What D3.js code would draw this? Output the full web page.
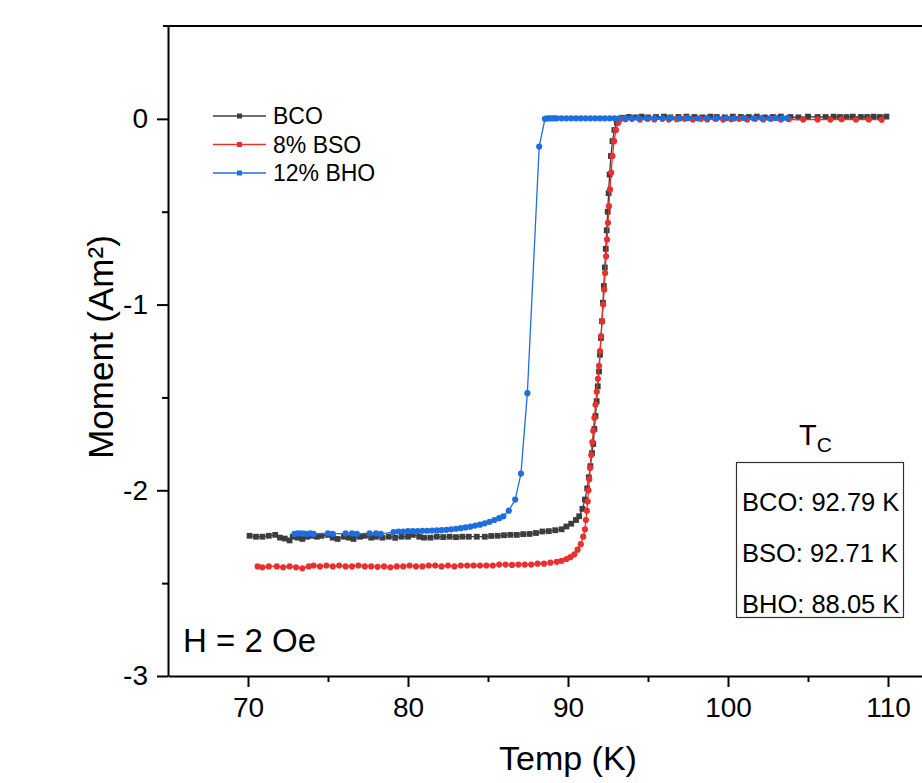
<!DOCTYPE html>
<html>
<head>
<meta charset="utf-8">
<script src="https://cdn.jsdelivr.net/npm/d3@7"></script>
<style>
body { margin: 0; background: #fff; }
svg { font-family: Arial, "Liberation Sans", sans-serif; display: block; }
.axis path, .axis line { stroke: #000; stroke-width: 2; }
.axis text { fill: #000; }
</style>
</head>
<body>
<svg class="chart"></svg>
<script>
// Temp (K), Moment (Am²)
var bco = [
  [70.1,-2.245],[70.5,-2.25],[70.9,-2.25],[71.3,-2.245],[71.7,-2.24],[72.0,-2.255],[72.3,-2.26],[72.6,-2.27],
  [72.8,-2.25],[73.1,-2.255],[73.4,-2.262],[73.7,-2.25],[74.0,-2.245],[74.3,-2.25],[74.6,-2.245],[75.0,-2.24],
  [75.3,-2.255],[75.6,-2.262],[76.0,-2.25],[76.3,-2.255],[76.6,-2.262],[77.0,-2.25],[77.3,-2.245],[77.7,-2.255],
  [78.0,-2.25],[78.4,-2.255],[78.8,-2.25],[79.2,-2.256],[79.6,-2.25],[80.0,-2.25],[80.3,-2.24],[80.7,-2.25],
  [81.0,-2.255],[81.4,-2.255],[81.8,-2.25],[82.2,-2.252],[82.6,-2.25],[83.0,-2.252],[83.4,-2.25],[83.8,-2.25],
  [84.3,-2.25],[84.8,-2.25],[85.2,-2.246],[85.6,-2.245],[86.0,-2.242],[86.4,-2.24],[86.8,-2.24],[87.2,-2.236],
  [87.6,-2.235],[88.0,-2.23],[88.4,-2.222],[88.8,-2.22],[89.2,-2.215],[89.6,-2.21],[89.9,-2.195],[90.2,-2.18],
  [90.5,-2.16],[90.7,-2.14],[90.9,-2.1],[91.06,-2.05],[91.2,-1.99],[91.3,-1.93],[91.4,-1.87],[91.5,-1.8],
  [91.58,-1.75],[91.65,-1.67],[91.72,-1.6],[91.79,-1.52],[91.86,-1.44],[91.94,-1.36],[92.0,-1.27],[92.06,-1.18],
  [92.12,-1.09],[92.18,-0.99],[92.24,-0.9],[92.3,-0.8],[92.36,-0.7],[92.42,-0.6],[92.48,-0.5],[92.54,-0.4],
  [92.6,-0.3],[92.68,-0.2],[92.78,-0.12],[92.9,-0.06],[93.05,-0.02],[93.2,0.0],[93.4,0.006],[93.8,0.01],
  [94.2,0.008],[94.6,0.012],[95.0,0.008],[95.5,0.01],[96.0,0.012],[96.4,0.008],[96.9,0.01],[97.4,0.012],
  [97.9,0.01],[98.4,0.008],[98.9,0.012],[99.3,0.01],[99.8,0.008],[100.3,0.012],[100.8,0.01],[101.3,0.01],
  [101.8,0.012],[102.3,0.008],[102.8,0.01],[103.3,0.012],[103.9,0.01],[104.4,0.008],[105.0,0.012],[105.6,0.01],
  [106.1,0.01],[106.6,0.012],[107.0,0.01],[107.4,0.01],[107.8,0.012],[108.3,0.01],[108.7,0.01],[109.1,0.012],
  [109.5,0.01],[109.9,0.012]
];

var bso = [
  [70.6,-2.41],[70.9,-2.415],[71.3,-2.41],[71.8,-2.41],[72.2,-2.415],[72.6,-2.41],[73.0,-2.415],[73.4,-2.42],
  [73.8,-2.41],[74.1,-2.405],[74.5,-2.41],[74.9,-2.405],[75.3,-2.41],[75.7,-2.405],[76.1,-2.41],[76.5,-2.41],
  [76.9,-2.405],[77.3,-2.41],[77.7,-2.41],[78.1,-2.412],[78.5,-2.41],[78.9,-2.415],[79.3,-2.41],[79.7,-2.41],
  [80.1,-2.405],[80.5,-2.41],[80.9,-2.41],[81.3,-2.405],[81.7,-2.405],[82.1,-2.41],[82.5,-2.405],[82.9,-2.41],
  [83.3,-2.405],[83.7,-2.405],[84.1,-2.405],[84.5,-2.405],[84.9,-2.405],[85.3,-2.405],[85.7,-2.4],[86.1,-2.4],
  [86.5,-2.402],[86.9,-2.4],[87.3,-2.4],[87.7,-2.4],[88.1,-2.395],[88.5,-2.395],[88.9,-2.39],[89.3,-2.385],
  [89.6,-2.38],[89.9,-2.37],[90.15,-2.36],[90.4,-2.345],[90.6,-2.32],[90.8,-2.29],[90.95,-2.25],[91.06,-2.21],
  [91.12,-2.16],[91.18,-2.11],[91.23,-2.06],[91.28,-2.0],[91.33,-1.94],[91.38,-1.88],[91.45,-1.81],[91.52,-1.74],
  [91.58,-1.68],[91.65,-1.61],[91.72,-1.54],[91.8,-1.47],[91.87,-1.4],[91.94,-1.33],[92.0,-1.25],[92.07,-1.17],
  [92.13,-1.09],[92.2,-1.0],[92.26,-0.92],[92.32,-0.83],[92.38,-0.74],[92.44,-0.65],[92.5,-0.56],[92.56,-0.47],
  [92.62,-0.38],[92.7,-0.29],[92.78,-0.2],[92.88,-0.12],[93.0,-0.06],[93.15,-0.02],[93.35,0.002],[93.6,-0.002],
  [94.0,0.0],[94.5,-0.004],[95.0,0.0],[95.4,-0.003],[95.9,0.0],[96.3,-0.004],[96.8,-0.002],[97.3,0.0],
  [97.8,-0.004],[98.3,0.0],[98.7,-0.003],[99.2,0.0],[99.7,-0.004],[100.2,-0.002],[100.7,0.0],[101.2,-0.004],
  [101.7,0.0],[102.2,-0.003],[102.7,0.0],[103.3,-0.004],[103.8,-0.002],[104.7,-0.004],[105.6,-0.003],[106.4,-0.004],
  [107.1,-0.002],[108.0,-0.004],[108.8,-0.003],[109.6,-0.005]
];

var bho = [
  [72.9,-2.235],[73.1,-2.232],[73.3,-2.232],[73.5,-2.233],[73.7,-2.235],[73.9,-2.232],[74.1,-2.235],[75.0,-2.232],
  [75.3,-2.235],[76.1,-2.232],[76.5,-2.232],[76.8,-2.235],[77.6,-2.232],[78.0,-2.232],[78.3,-2.235],[79.1,-2.225],
  [79.4,-2.222],[79.7,-2.222],[80.0,-2.22],[80.3,-2.22],[80.6,-2.22],[80.9,-2.218],[81.2,-2.218],[81.5,-2.217],
  [81.8,-2.216],[82.1,-2.215],[82.4,-2.213],[82.7,-2.21],[83.0,-2.207],[83.3,-2.204],[83.6,-2.2],[83.9,-2.196],
  [84.2,-2.19],[84.5,-2.185],[84.8,-2.178],[85.1,-2.17],[85.4,-2.16],[85.7,-2.15],[85.96,-2.14],[86.3,-2.11],
  [86.7,-2.05],[87.06,-1.91],[87.46,-1.477],[88.2,-0.149],[88.56,0.0],[88.7,0.003],[88.85,0.003],[89.0,0.003],
  [89.15,0.003],[89.3,0.003],[89.6,0.003],[89.9,0.003],[90.2,0.003],[90.5,0.003],[90.8,0.003],[91.1,0.003],
  [91.4,0.003],[91.7,0.003],[92.0,0.003],[92.3,0.003],[92.6,0.003],[92.9,0.003],[93.2,0.003],[93.6,0.004],
  [94.0,0.003],[94.4,0.004],[94.9,0.003],[95.4,0.004],[95.9,0.003],[96.4,0.004],[97.0,0.003],[97.5,0.004],
  [98.1,0.003],[98.7,0.004],[99.3,0.003],[99.9,0.004],[100.4,0.003],[101.0,0.004],[101.6,0.003],[102.1,0.004],
  [102.6,0.003],[103.0,0.004],[103.4,0.003],[103.7,0.004]
];

var series = [
  {name: "BCO", data: bco, color: "#3d3d3d", shape: "square"},
  {name: "8% BSO", data: bso, color: "#e8312e", shape: "circle"},
  {name: "12% BHO", data: bho, color: "#1e6ee0", shape: "circle"}
];

var tcLabels = ["BCO: 92.79 K", "BSO: 92.71 K", "BHO: 88.05 K"];

var margin = {top: 26, left: 168},
    width = 800,
    height = 650;

var x = d3.scaleLinear().domain([65, 115]).range([0, width]);
var y = d3.scaleLinear().domain([-3, 0.5]).range([height, 0]);

var svg = d3.select(".chart")
    .attr("width", 922)
    .attr("height", 783);

var chart = svg.append("g")
    .attr("transform", "translate(" + margin.left + "," + margin.top + ")");

// top frame line
chart.append("line")
    .attr("x1", -5).attr("x2", width)
    .attr("y1", 0).attr("y2", 0)
    .attr("stroke", "#000").attr("stroke-width", 2);

// minor ticks
chart.append("g")
    .attr("class", "axis")
    .attr("transform", "translate(0," + height + ")")
    .call(d3.axisBottom(x).tickValues([75, 85, 95, 105, 115]).tickSize(6).tickFormat(""))
    .select(".domain").remove();

chart.append("g")
    .attr("class", "axis")
    .call(d3.axisLeft(y).tickValues([-2.5, -1.5, -0.5]).tickSize(6).tickFormat(""))
    .select(".domain").remove();

chart.append("g")
    .attr("class", "x axis")
    .attr("transform", "translate(0," + height + ")")
    .call(d3.axisBottom(x).tickValues([70, 80, 90, 100, 110]).tickSize(11).tickSizeOuter(0).tickPadding(10)
      .tickFormat(function(d) { return d; }))
    .style("font-size", "28px");

chart.append("g")
    .attr("class", "y axis")
    .call(d3.axisLeft(y).tickValues([-3, -2, -1, 0]).tickSize(11).tickSizeOuter(0).tickPadding(9)
      .tickFormat(function(d) { return String(d); }))
    .style("font-size", "28px");

chart.selectAll(".axis text").attr("font-family", null);

// data
var line = d3.line()
    .x(function(d) { return x(d[0]); })
    .y(function(d) { return y(d[1]); });

var serie = chart.selectAll(".serie")
    .data(series)
    .enter().append("g")
      .attr("class", "serie");

serie.append("path")
    .attr("d", function(d) { return line(d.data); })
    .attr("fill", "none")
    .attr("stroke", function(d) { return d.color; })
    .attr("stroke-width", 1.3);

serie.each(function(s) {
  var g = d3.select(this);
  if (s.shape == "square") {
    g.selectAll("rect")
      .data(s.data)
      .enter().append("rect")
        .attr("x", function(d) { return x(d[0]) - 2.9; })
        .attr("y", function(d) { return y(d[1]) - 2.9; })
        .attr("width", 5.8)
        .attr("height", 5.8)
        .attr("fill", s.color);
  } else {
    g.selectAll("circle")
      .data(s.data)
      .enter().append("circle")
        .attr("cx", function(d) { return x(d[0]); })
        .attr("cy", function(d) { return y(d[1]); })
        .attr("r", 3.1)
        .attr("fill", s.color);
  }
});

// legend
var legend = svg.selectAll(".legend")
    .data(series)
    .enter().append("g")
      .attr("class", "legend")
      .attr("transform", function(d, i) { return "translate(213," + (116 + i * 28.5) + ")"; });

legend.append("line")
    .attr("x1", 0).attr("x2", 53)
    .attr("stroke", function(d) { return d.color; })
    .attr("stroke-width", 1.3);

legend.append("rect")
    .attr("x", 24).attr("y", -2.5)
    .attr("width", 5).attr("height", 5)
    .attr("fill", function(d) { return d.color; });

legend.append("text")
    .attr("x", 60)
    .attr("dy", "0.35em")
    .style("font-size", "23px")
    .text(function(d) { return d.name; });

// H annotation
svg.append("text")
    .attr("x", 183)
    .attr("y", 652)
    .style("font-size", "33px")
    .text("H = 2 Oe");

// Tc box
var tc = svg.append("text")
    .attr("x", 799)
    .attr("y", 445)
    .style("font-size", "29px");
tc.append("tspan").text("T");
tc.append("tspan").attr("dy", 7).style("font-size", "21px").text("C");

svg.append("rect")
    .attr("x", 736.5).attr("y", 462.5)
    .attr("width", 167).attr("height", 155)
    .attr("fill", "none")
    .attr("stroke", "#333")
    .attr("stroke-width", 1.2);

svg.selectAll(".tc")
    .data(tcLabels)
    .enter().append("text")
      .attr("class", "tc")
      .attr("x", 742)
      .attr("y", function(d, i) { return 502 + i * 51; })
      .attr("dy", "0.35em")
      .style("font-size", "25.5px")
      .text(function(d) { return d; });

// axis titles
svg.append("text")
    .attr("x", 568)
    .attr("y", 770)
    .attr("text-anchor", "middle")
    .style("font-size", "34px")
    .text("Temp (K)");

svg.append("text")
    .attr("transform", "translate(113,347) rotate(-90)")
    .attr("text-anchor", "middle")
    .style("font-size", "35px")
    .text("Moment (Am²)");
</script>
</body>
</html>
